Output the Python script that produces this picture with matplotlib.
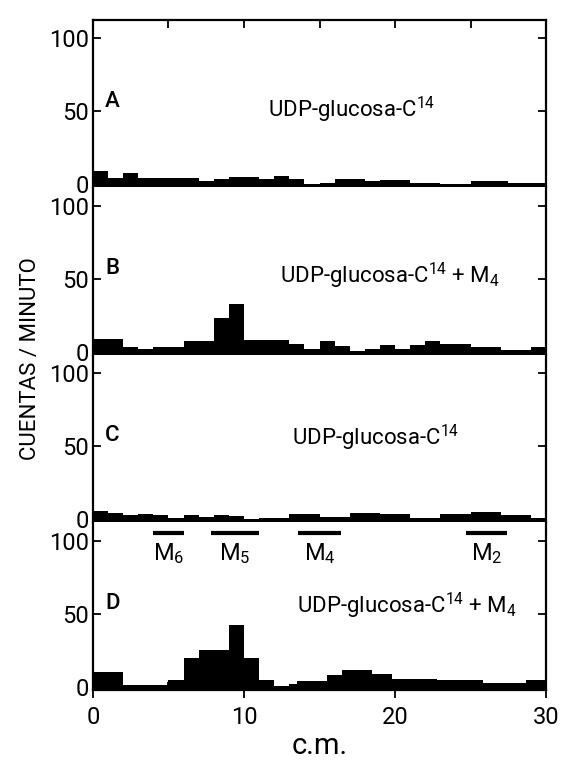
import matplotlib
matplotlib.use("Agg")
import matplotlib.pyplot as plt

plt.rcParams['font.family'] = ['Roboto', 'DejaVu Sans']
plt.rcParams['mathtext.fontset'] = 'custom'
plt.rcParams['mathtext.rm'] = 'Roboto'
plt.rcParams['mathtext.it'] = 'Roboto'

# step edges (cm) and counts per minute for each panel
edges_a = [0, 1, 2, 3, 7, 8, 9, 11, 12, 13, 14, 15, 16, 18, 19, 21, 23, 25, 27.5, 30]
counts_a = [9, 4.5, 8, 4.5, 2, 4, 5, 3.5, 6, 3.5, 0, 1, 3.5, 2, 3, 1, 0.5, 2.5, 1]

edges_b = [0, 2, 3, 4, 6, 8, 9, 10, 13, 14, 15, 16, 17, 18, 19, 20, 21, 22, 23, 25, 27, 29, 30]
counts_b = [8.5, 3.4, 1.8, 3.4, 7.2, 23, 33, 8.3, 5.6, 2.3, 7.7, 4, 0.7, 2.3, 5, 1.8, 5, 7.2, 5.2, 3.4, 1.6, 3.4]

edges_c = [0, 1, 2, 3, 4, 5, 6, 7, 8, 9, 10, 11, 13, 15, 17, 19, 21, 23, 25, 27, 29, 30]
counts_c = [5.6, 4.3, 2.7, 3.8, 2.7, 0.9, 3.2, 1.8, 3.2, 2, 0, 0.9, 3.4, 1.4, 4, 3.6, 0.9, 3.6, 4.7, 3.2, 1.1]

edges_d = [0, 2, 5, 6, 7, 9, 10, 11, 12, 13, 13.5, 15.5, 16.5, 18.5, 19.8, 22.8, 25.8, 28.7, 30]
counts_d = [10, 1, 5, 20, 25, 42, 20, 5, 0.5, 2, 4, 8, 11.5, 9, 5.5, 4.5, 2.5, 5]

letters = ['A', 'B', 'C', 'D']
captions = ['UDP-glucosa-C$^{14}$', 'UDP-glucosa-C$^{14}$ + M$_4$',
            'UDP-glucosa-C$^{14}$', 'UDP-glucosa-C$^{14}$ + M$_4$']
caption_pos = [(11.6, 51), (12.4, 52), (13.2, 56), (13.5, 55)]

# marker fractions shown above panel D
marker_names = ['M$_6$', 'M$_5$', 'M$_4$', 'M$_2$']
marker_start = [4.0, 7.8, 13.6, 24.7]
marker_end = [6.0, 11.0, 16.4, 27.4]

panels = [(edges_a, counts_a), (edges_b, counts_b), (edges_c, counts_c), (edges_d, counts_d)]

fig, axes = plt.subplots(4, 1, figsize=(5.63, 7.63), dpi=100, sharex=True)
fig.subplots_adjust(left=0.165, right=0.97, top=0.974, bottom=0.096, hspace=0)

for i, ax in enumerate(axes):
    edges, counts = panels[i]
    ax.stairs(counts, edges, baseline=-5, fill=True, color='black')
    ax.set_xlim(0, 30)
    ax.set_ylim(-2, 112.5)
    ax.set_yticks([0, 50, 100])
    ax.tick_params(axis='y', direction='in', length=6, width=1.3, labelsize=17,
                   right=True, pad=3)
    for s in ax.spines.values():
        s.set_linewidth(1.6)
    if i != 0:
        ax.spines['top'].set_visible(False)
    if i != 3:
        ax.spines['bottom'].set_visible(False)
    ax.text(1.3, 57, letters[i], fontsize=16, fontweight='medium', ha='center', va='center')
    ax.text(caption_pos[i][0], caption_pos[i][1], captions[i], fontsize=16,
            ha='left', va='center')

axes[0].tick_params(axis='x', which='both', top=True, bottom=False, direction='in',
                    length=6, width=1.3)
axes[0].set_xticks([5, 10, 15, 20, 25])
for ax in axes[1:3]:
    ax.tick_params(axis='x', which='both', bottom=False, top=False)

ax = axes[3]
ax.set_xticks([0, 10, 20, 30])
ax.set_xticks([5, 15, 25], minor=True)
ax.tick_params(axis='x', which='major', direction='out', length=6, width=1.3,
               labelsize=17, top=False, pad=6)
ax.tick_params(axis='x', which='minor', direction='in', length=6, width=1.3, top=False)
ax.set_xlabel('c.m.', fontsize=21, labelpad=2)
ax.hlines([105] * 4, marker_start, marker_end, color='black', linewidth=3)
for name, a, b in zip(marker_names, marker_start, marker_end):
    ax.text((a + b) / 2, 91, name, fontsize=17, ha='center', va='center')

fig.text(0.055, 0.53, 'CUENTAS / MINUTO', rotation=90, fontsize=16,
         ha='center', va='center')

fig.savefig('out.png', dpi=100)
